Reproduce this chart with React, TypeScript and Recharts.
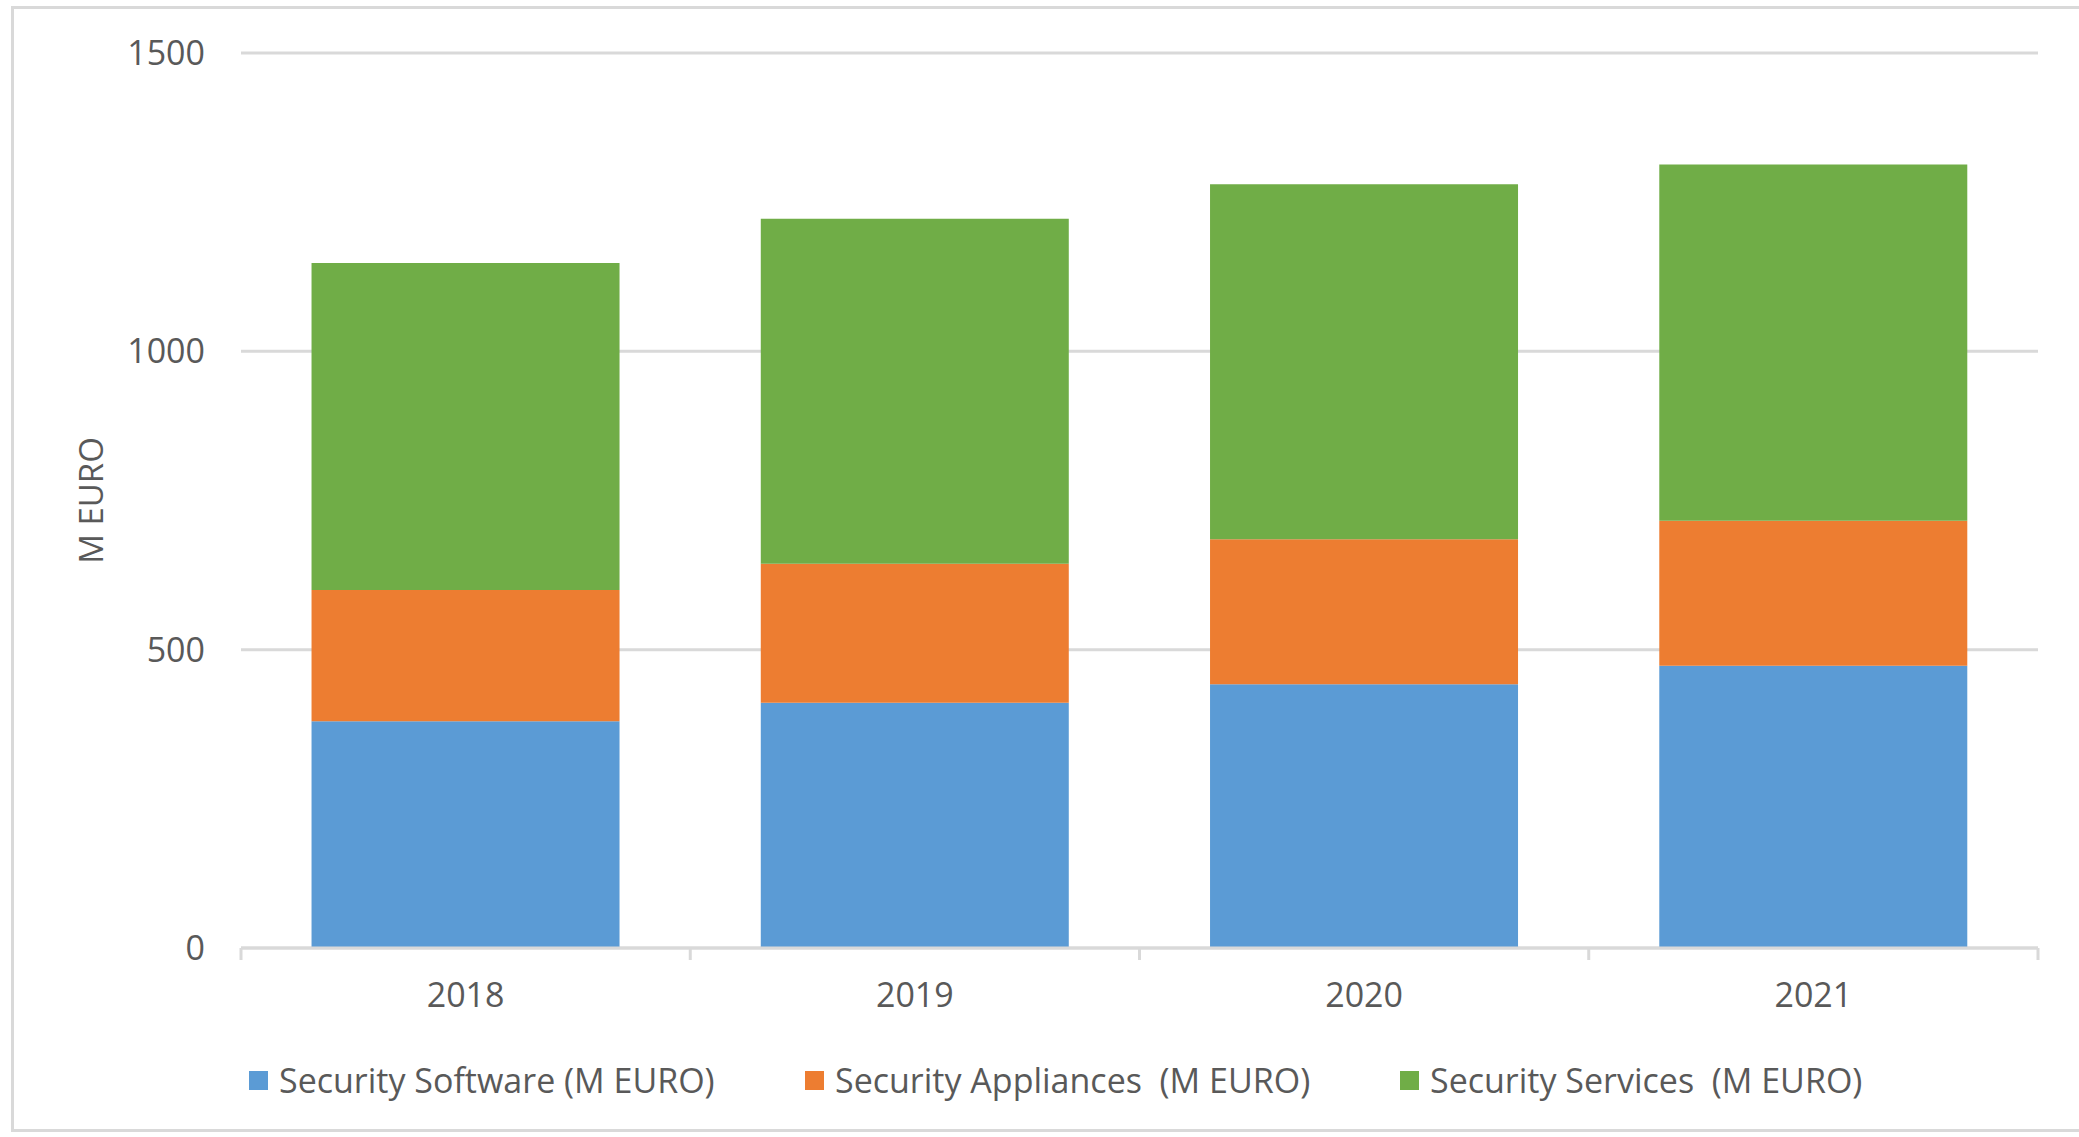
import { BarChart, Bar, XAxis, YAxis, CartesianGrid, Legend, Label } from 'recharts';

const years = ['2018', '2019', '2020', '2021'];
const software = [380, 411, 442, 473];
const appliances = [220, 233, 243, 243];
const services = [548, 578, 595, 597];
const yTicks = [0, 500, 1000, 1500];
const boundaryTicks = [0, 1, 2, 3, 4];

const SERIES = [
  { key: 'software', name: 'Security Software (M EURO)', color: '#5B9BD5' },
  { key: 'appliances', name: 'Security Appliances  (M EURO)', color: '#ED7D31' },
  { key: 'services', name: 'Security Services  (M EURO)', color: '#70AD47' },
];

const data = years.map((year, i) => ({
  year,
  pos: i + 0.5,
  software: software[i],
  appliances: appliances[i],
  services: services[i],
}));

const FONT = '"Open Sans", sans-serif';
const TEXT = '#595959';
const GRID = '#d9d9d9';

// legend item widths so the three entries start where Excel put them
const LEGEND_WIDTHS = [556, 595, 560];

const renderLegend = (props: any) => {
  const payload = [...(props.payload || [])].sort(
    (a: any, b: any) =>
      SERIES.findIndex(s => s.name === a.value) - SERIES.findIndex(s => s.name === b.value)
  );
  return (
    <div style={{ display: 'flex', paddingLeft: 249, fontFamily: FONT, fontSize: 34, color: TEXT }}>
      {payload.map((p: any, i: number) => (
        <div key={p.value} style={{ width: LEGEND_WIDTHS[i], display: 'flex', alignItems: 'center' }}>
          <span style={{ width: 19, height: 19, background: p.color, marginRight: 11, flex: 'none' }} />
          <span style={{ whiteSpace: 'pre' }}>{p.value}</span>
        </div>
      ))}
    </div>
  );
};

const App = () => {
  return (
    <div style={{ position: 'absolute', left: 0, top: 0, width: 2079, height: 1137, overflow: 'hidden', background: '#fff' }}>
      <div
        style={{
          position: 'absolute',
          left: 11,
          top: 6,
          width: 2100,
          height: 1126,
          border: `3px solid ${GRID}`,
          boxSizing: 'border-box',
        }}
      />
      <div style={{ position: 'absolute', left: 0, top: 0 }}>
        <BarChart
          width={2079}
          height={1137}
          data={data}
          margin={{ top: 53, right: 41, bottom: 128, left: 101 }}
          barCategoryGap="15.7%"
        >
          <CartesianGrid vertical={false} stroke={GRID} strokeWidth={3} />
          {/* category boundary ticks, Excel style */}
          <XAxis
            xAxisId="a_edge"
            dataKey="pos"
            type="number"
            domain={[0, 4]}
            ticks={boundaryTicks}
            height={1}
            tickSize={12}
            tickFormatter={() => ''}
            stroke={GRID}
            axisLine={{ stroke: GRID, strokeWidth: 3 }}
            tickLine={{ stroke: GRID, strokeWidth: 3 }}
          />
          <XAxis
            xAxisId="b_cat"
            dataKey="year"
            height={60}
            axisLine={false}
            tickLine={false}
            tickSize={0}
            tickMargin={34}
            tick={{ fill: TEXT, fontSize: 34, fontFamily: FONT }}
          />
          <YAxis
            width={140}
            domain={[0, 1500]}
            ticks={yTicks}
            axisLine={false}
            tickLine={false}
            tickSize={0}
            tickMargin={36}
            tick={{ fill: TEXT, fontSize: 34, fontFamily: FONT }}
          >
            <Label
              content={({ viewBox }: any) => (
                <text
                  x={0}
                  y={0}
                  transform={`translate(90, ${viewBox.y + viewBox.height / 2}) rotate(-90)`}
                  textAnchor="middle"
                  dominantBaseline="central"
                  fill={TEXT}
                  fontSize={33}
                  fontFamily={FONT}
                >
                  M EURO
                </text>
              )}
            />
          </YAxis>
          <Legend
            layout="horizontal"
            verticalAlign="middle"
            align="center"
            content={renderLegend}
            wrapperStyle={{ top: 1057, left: 0, width: 2079 }}
          />
          {SERIES.map(s => (
            <Bar
              key={s.key}
              xAxisId="b_cat"
              dataKey={s.key}
              name={s.name}
              stackId="a"
              fill={s.color}
              isAnimationActive={false}
            />
          ))}
        </BarChart>
      </div>
    </div>
  );
};

export default App;
